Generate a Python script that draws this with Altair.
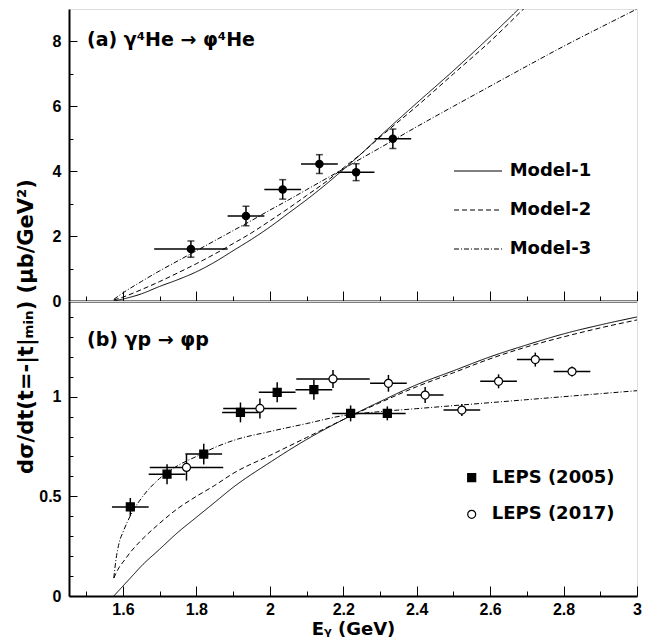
import json
import altair as alt
import pandas as pd

# ---------------- panel (a): gamma 4He -> phi 4He ----------------
HE_E = [1.785, 1.935, 2.035, 2.135, 2.235, 2.335]
HE_E_LO = [1.685, 1.885, 1.985, 2.085, 2.185, 2.285]
HE_E_HI = [1.885, 1.985, 2.085, 2.185, 2.285, 2.385]
HE_Y = [1.60, 2.62, 3.44, 4.22, 3.97, 5.00]
HE_YERR = [0.25, 0.30, 0.30, 0.29, 0.26, 0.30]

GRID_A = [1.575, 1.6, 1.65, 1.7, 1.75, 1.8, 1.85, 1.9, 1.95, 2.0, 2.05, 2.1,
          2.15, 2.2, 2.25, 2.3, 2.4, 2.5, 2.6, 2.7, 2.8, 2.9, 3.0]
M1_A = [0.0, 0.06, 0.22, 0.45, 0.66, 0.90, 1.20, 1.55, 1.90, 2.28, 2.70, 3.12,
        3.57, 4.05, 4.55, 5.08, 6.10, 7.10, 8.15, 9.25, 10.4, 11.6, 12.8]
M2_A = [0.03, 0.12, 0.35, 0.60, 0.87, 1.15, 1.45, 1.77, 2.10, 2.47, 2.85, 3.25,
        3.65, 4.10, 4.55, 5.05, 6.00, 7.00, 8.00, 9.10, 10.2, 11.3, 12.4]
M3_A = [0.05, 0.25, 0.60, 0.93, 1.24, 1.55, 1.86, 2.17, 2.48, 2.80, 3.11, 3.43,
        3.75, 4.07, 4.40, 4.72, 5.37, 6.00, 6.62, 7.24, 7.85, 8.43, 9.00]

# ---------------- panel (b): gamma p -> phi p ----------------
L05_E = [1.62, 1.72, 1.82, 1.92, 2.02, 2.12, 2.22, 2.32]
L05_EERR = [0.05, 0.05, 0.05, 0.05, 0.05, 0.05, 0.05, 0.05]
L05_Y = [0.447, 0.611, 0.712, 0.921, 1.022, 1.035, 0.916, 0.916]
L05_YERR = [0.045, 0.05, 0.052, 0.05, 0.05, 0.05, 0.04, 0.035]

L17_E = [1.773, 1.973, 2.172, 2.323, 2.423, 2.523, 2.623, 2.723, 2.823]
L17_EERR = [0.1, 0.1, 0.1, 0.05, 0.05, 0.05, 0.05, 0.05, 0.05]
L17_Y = [0.645, 0.941, 1.089, 1.067, 1.008, 0.933, 1.077, 1.186, 1.126]
L17_YERR = [0.066, 0.05, 0.045, 0.042, 0.04, 0.03, 0.035, 0.035, 0.025]

GRID_B = [1.575, 1.58, 1.59, 1.6, 1.625, 1.65, 1.7, 1.75, 1.8, 1.85, 1.9, 2.0,
          2.1, 2.2, 2.3, 2.4, 2.5, 2.6, 2.7, 2.8, 2.9, 3.0]
M1_B = [0.0, 0.01, 0.03, 0.05, 0.10, 0.15, 0.235, 0.32, 0.395, 0.47, 0.545, 0.67,
        0.785, 0.885, 0.975, 1.06, 1.13, 1.20, 1.26, 1.315, 1.36, 1.40]
M2_B = [0.09, 0.11, 0.145, 0.17, 0.23, 0.28, 0.365, 0.44, 0.50, 0.555, 0.615, 0.705,
        0.795, 0.885, 0.97, 1.05, 1.12, 1.19, 1.25, 1.30, 1.345, 1.385]
M3_B = [0.09, 0.17, 0.27, 0.32, 0.42, 0.49, 0.59, 0.655, 0.70, 0.745, 0.78, 0.825,
        0.865, 0.905, 0.925, 0.94, 0.955, 0.97, 0.985, 1.00, 1.015, 1.03]

MODELS = ["Model-1", "Model-2", "Model-3"]
DATASETS = ["LEPS (2005)", "LEPS (2017)"]

X_MAJOR = [1.6, 1.8, 2.0, 2.2, 2.4, 2.6, 2.8, 3.0]
X_MINOR = [1.5, 1.7, 1.9, 2.1, 2.3, 2.5, 2.7, 2.9]
YA_MAJOR = [0, 2, 4, 6, 8]
YA_MINOR = [1, 3, 5, 7]
YB_MAJOR = [0, 0.5, 1.0]
YB_MINOR = [0.1, 0.2, 0.3, 0.4, 0.6, 0.7, 0.8, 0.9, 1.1, 1.2, 1.3, 1.4]

X_TITLE = "E\u1d67 (GeV)"
Y_TITLE = "d\u03c3/dt(t=-|t|\u2098\u1d62\u2099) (\u03bcb/GeV\u00b2)"
TITLE_A = "(a) \u03b3\u2074He \u2192 \u03c6\u2074He"
TITLE_B = "(b) \u03b3p \u2192 \u03c6p"

# ---------------- tables ----------------
def models_table(grid, series):
    rows = []
    for name, ys in zip(MODELS, series):
        for e, y in zip(grid, ys):
            rows.append({"E": e, "y": y, "model": name})
    return pd.DataFrame(rows)

models_a = models_table(GRID_A, [M1_A, M2_A, M3_A])
models_b = models_table(GRID_B, [M1_B, M2_B, M3_B])

he = pd.DataFrame({"E": HE_E, "E_lo": HE_E_LO, "E_hi": HE_E_HI, "y": HE_Y})
he["y_lo"] = he["y"] - pd.Series(HE_YERR)
he["y_hi"] = he["y"] + pd.Series(HE_YERR)

def pts_table(es, eerr, ys, yerr, name):
    d = pd.DataFrame({"E": es, "y": ys})
    d["E_lo"] = d["E"] - pd.Series(eerr)
    d["E_hi"] = d["E"] + pd.Series(eerr)
    d["y_lo"] = d["y"] - pd.Series(yerr)
    d["y_hi"] = d["y"] + pd.Series(yerr)
    d["dataset"] = name
    return d

pb = pd.concat([pts_table(L05_E, L05_EERR, L05_Y, L05_YERR, DATASETS[0]),
                pts_table(L17_E, L17_EERR, L17_Y, L17_YERR, DATASETS[1])],
               ignore_index=True)

# ---------------- axes ----------------
TICK_FONT = "Liberation Sans"
TEXT_FONT = "DejaVu Sans"

def tick_size(major, big, small):
    return {"expr": f"indexof({json.dumps(major)}, datum.value) >= 0 ? {-big} : {-small}"}

def label_expr(major):
    return f"indexof({json.dumps(major)}, datum.value) >= 0 ? format(datum.value, '~g') : ''"

common_axis = dict(grid=False, domain=True, domainColor="black", domainWidth=2,
                   tickColor="black", tickWidth=1, labelFont=TICK_FONT,
                   labelFontSize=16, labelFontWeight="bold", labelColor="black",
                   labelFlush=False, labelOverlap=False)

x_axis_a = alt.Axis(values=sorted(X_MAJOR + X_MINOR), tickSize=tick_size(X_MAJOR, 10, 5),
                    labels=False, title=None, **common_axis)
x_axis_b = alt.Axis(values=sorted(X_MAJOR + X_MINOR), tickSize=tick_size(X_MAJOR, 10, 5),
                    labelExpr=label_expr(X_MAJOR), labelPadding=15,
                    title=X_TITLE, titleFont=TEXT_FONT, titleFontSize=18,
                    titleFontWeight="bold", titleColor="black", titleY=38,
                    titleBaseline="alphabetic", **common_axis)
y_axis_a = alt.Axis(values=sorted(YA_MAJOR + YA_MINOR), tickSize=tick_size(YA_MAJOR, 8, 4),
                    labelExpr=label_expr(YA_MAJOR), labelPadding=16, title=None,
                    **common_axis)
y_axis_b = alt.Axis(values=sorted(YB_MAJOR + YB_MINOR), tickSize=tick_size(YB_MAJOR, 8, 4),
                    labelExpr=label_expr(YB_MAJOR), labelPadding=16,
                    title=Y_TITLE, titleFont=TEXT_FONT, titleFontSize=21,
                    titleFontWeight="bold", titleColor="black", titleX=-37, titleY=25,
                    titleAngle=270, titleAlign="center", titleBaseline="alphabetic",
                    **common_axis)

x_scale = alt.Scale(domain=[1.453, 3.0], nice=False, zero=False)
ya_scale = alt.Scale(domain=[0, 9], nice=False)
yb_scale = alt.Scale(domain=[0, 1.48], nice=False)

def X(field, axis):
    return alt.X(field, type="quantitative", scale=x_scale, axis=axis)

def Y(field, scale, axis):
    return alt.Y(field, type="quantitative", scale=scale, axis=axis)

dash_scale = alt.Scale(domain=MODELS, range=[[1, 0], [5, 3], [5, 2, 1, 2]])

legend_models = alt.Legend(orient="none", legendX=400, legendY=153, title=None,
                           padding=0, symbolType="M-3,0H3", symbolSize=256,
                           symbolStrokeWidth=1, symbolStrokeColor="black",
                           symbolFillColor="transparent", labelFont=TEXT_FONT,
                           labelFontSize=18, labelFontWeight="bold", labelColor="black",
                           labelOffset=22.7, rowPadding=21, labelLimit=400)

legend_data = alt.Legend(orient="none", legendX=393.7, legendY=167.7, title=None,
                         padding=0, symbolSize=64, symbolStrokeWidth=1.2,
                         labelFont=TEXT_FONT, labelFontSize=18,
                         labelFontWeight="bold", labelColor="black", labelOffset=11,
                         rowPadding=18.6, labelLimit=400)

def panel_label(text, ypix):
    return alt.Chart(pd.DataFrame({"label": [text]})).mark_text(
        align="left", baseline="alphabetic", font=TEXT_FONT, fontSize=19,
        fontWeight="bold", color="black").encode(
        text="label:N", x=alt.value(18), y=alt.value(ypix))

# ---------------- panel (a) ----------------
lines_a = alt.Chart(models_a).mark_line(clip=True, color="black", strokeWidth=1,
                                        interpolate="monotone").encode(
    x=X("E", x_axis_a), y=Y("y", ya_scale, y_axis_a),
    strokeDash=alt.StrokeDash("model:N", scale=dash_scale, legend=legend_models))

base_a = alt.Chart(he)
herr_a = base_a.mark_rule(color="black", strokeWidth=1.5).encode(
    x=X("E_lo", x_axis_a), x2="E_hi", y=Y("y", ya_scale, y_axis_a))
verr_a = base_a.mark_rule(color="black", strokeWidth=1.5).encode(
    x=X("E", x_axis_a), y=Y("y_lo", ya_scale, y_axis_a), y2="y_hi")
cap_lo = base_a.mark_tick(orient="horizontal", size=7, thickness=1.5, color="black").encode(
    x=X("E", x_axis_a), y=Y("y_lo", ya_scale, y_axis_a))
cap_hi = base_a.mark_tick(orient="horizontal", size=7, thickness=1.5, color="black").encode(
    x=X("E", x_axis_a), y=Y("y_hi", ya_scale, y_axis_a))
pts_a = base_a.mark_point(shape="circle", filled=True, size=72, color="black",
                          opacity=1).encode(
    x=X("E", x_axis_a), y=Y("y", ya_scale, y_axis_a))

panel_a = alt.layer(lines_a, herr_a, verr_a, cap_lo, cap_hi, pts_a,
                    panel_label(TITLE_A, 36.5)).properties(width=568, height=292)

# ---------------- panel (b) ----------------
lines_b = alt.Chart(models_b).mark_line(clip=True, color="black", strokeWidth=1,
                                        interpolate="monotone").encode(
    x=X("E", x_axis_b), y=Y("y", yb_scale, y_axis_b),
    strokeDash=alt.StrokeDash("model:N", scale=dash_scale, legend=None))

base_b = alt.Chart(pb)
herr_b = base_b.mark_rule(color="black", strokeWidth=1.5).encode(
    x=X("E_lo", x_axis_b), x2="E_hi", y=Y("y", yb_scale, y_axis_b))
verr_b = base_b.mark_rule(color="black", strokeWidth=1.5).encode(
    x=X("E", x_axis_b), y=Y("y_lo", yb_scale, y_axis_b), y2="y_hi")
pts_b = base_b.mark_point(filled=True, size=64, strokeWidth=1.2, opacity=1).encode(
    x=X("E", x_axis_b), y=Y("y", yb_scale, y_axis_b),
    shape=alt.Shape("dataset:N", scale=alt.Scale(domain=DATASETS, range=["square", "circle"]),
                    legend=legend_data),
    fill=alt.Fill("dataset:N", scale=alt.Scale(domain=DATASETS, range=["black", "white"]),
                  legend=legend_data),
    stroke=alt.Stroke("dataset:N", scale=alt.Scale(domain=DATASETS, range=["black", "black"]),
                      legend=legend_data))

panel_b = alt.layer(lines_b, herr_b, verr_b, pts_b,
                    panel_label(TITLE_B, 45)).properties(width=568, height=295)

chart = alt.vconcat(panel_a, panel_b, spacing=0, bounds="flush").resolve_scale(
    x="independent", y="independent", strokeDash="independent",
    shape="independent", fill="independent", stroke="independent").resolve_legend(
    strokeDash="independent", shape="independent", fill="independent",
    stroke="independent").properties(
    padding={"left": 6, "top": 0, "right": 5, "bottom": 0}).configure_view(
    stroke="black", strokeWidth=1.5).configure(background="white")

chart.save("out.html", embed_options={"renderer": "svg", "actions": False})
